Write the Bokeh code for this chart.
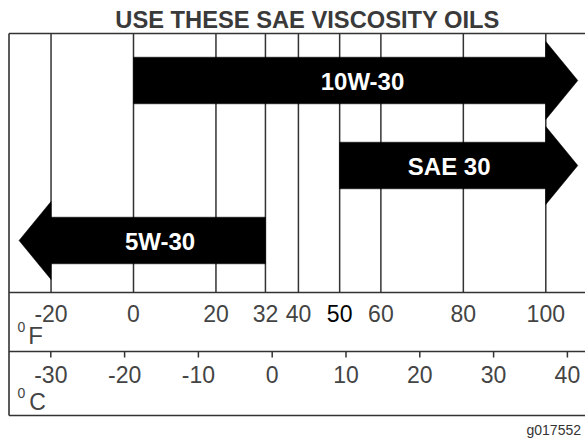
from bokeh.plotting import figure
from bokeh.models import Range1d, Label
from bokeh.core.properties import value
from bokeh.embed import file_html
from bokeh.resources import INLINE

# ---------------- data ----------------
title_text = "USE THESE SAE VISCOSITY OILS"
f_ticks = [-20, 0, 20, 32, 40, 50, 60, 80, 100]
f_labels = ["-20", "0", "20", "32", "40", "50", "60", "80", "100"]
c_ticks = [-30, -20, -10, 0, 10, 20, 30, 40]
c_labels = ["-30", "-20", "-10", "0", "10", "20", "30", "40"]
oil_names = ["10W-30", "SAE 30", "5W-30"]
oil_from_f = [0, 50, 32]
oil_to_f = [100, 100, -20]
code_text = "g017552"

# ---------------- layout ----------------
W, H = 585, 440
FONT = value("Liberation Sans")
LINE = "#333333"
# F scale: x = 133 + 4.123*F ; C scale: x = 271.7 + 7.38*C (as drawn)
f_slope = 4.123
f_zero = 133
c_slope = 7.38
c_zero = 271.7


def fx(px):
    return (px - f_zero) / f_slope


p = figure(width=W, height=H, output_backend="svg", toolbar_location=None,
           x_range=Range1d(fx(0), fx(W)),
           y_range=Range1d(H, 0), min_border=0, outline_line_color=None)
p.extra_x_ranges = {"C": Range1d(-c_zero / c_slope, (W - c_zero) / c_slope)}
p.axis.visible = False
p.grid.visible = False
p.background_fill_color = "white"
p.border_fill_color = "white"

box_top, strip_f, strip_c, box_bottom = 33, 292, 351, 415
x_left = fx(8.5)
x_right = fx(W + 20)

# box + strips
p.multi_line(xs=[[x_left, x_right], [x_left, x_right], [x_left, x_right], [x_left, x_right], [x_left, x_left]],
             ys=[[box_top, box_top], [strip_f, strip_f], [strip_c, strip_c], [box_bottom, box_bottom],
                 [box_top, box_bottom]],
             line_color=LINE, line_width=1.6)

# vertical temperature lines
p.segment(x0=f_ticks, x1=f_ticks, y0=[box_top] * len(f_ticks), y1=[strip_f] * len(f_ticks),
          line_color=LINE, line_width=1.5)

# C ticks
p.segment(x0=c_ticks, x1=c_ticks, y0=[strip_c] * len(c_ticks), y1=[strip_c + 6] * len(c_ticks),
          line_color=LINE, line_width=1.5, x_range_name="C")

# arrows
row_y = [80, 165, 240]
half_bar = 23.3
half_head = 39
head_len = 32 / f_slope
xs, ys = [], []
for x0, x1, yc in zip(oil_from_f, oil_to_f, row_y):
    d = 1 if x1 > x0 else -1
    tip = x1 + d * head_len
    xs.append([x0, x1, x1, tip, x1, x1, x0])
    ys.append([yc - half_bar, yc - half_bar, yc - half_head, yc, yc + half_head, yc + half_bar, yc + half_bar])
p.patches(xs=xs, ys=ys, fill_color="black", line_color="black", line_width=0.5)

label_x = [fx(362), fx(448.7), fx(159.5)]
p.text(x=label_x, y=[y + 1 for y in row_y], text=oil_names, text_font=FONT, text_font_size="24px",
       text_font_style="bold", text_color="white", text_align="center", text_baseline="middle")

# F labels
f_colors = ["#444444"] * len(f_labels)
f_colors[f_labels.index("50")] = "#000000"
p.text(x=f_ticks, y=[313] * len(f_ticks), text=f_labels, text_font=FONT, text_font_size="23px",
       text_color=f_colors, text_align="center", text_baseline="middle")
# C labels
p.text(x=c_ticks, y=[374] * len(c_ticks), text=c_labels, text_font=FONT, text_font_size="23px",
       text_color="#444444", text_align="center", text_baseline="middle", x_range_name="C")

# unit labels
for txt, px, py, size in [("0", 21, 326, "14px"), ("F", 35, 335, "24px"),
                          ("0", 21, 392, "14px"), ("C", 37, 401, "23px")]:
    p.add_layout(Label(x=fx(px), y=py, text=txt, text_font="Liberation Sans",
                       text_font_size=size, text_color="#444444", text_align="center",
                       text_baseline="middle"))

# title
p.add_layout(Label(x=fx(307), y=19, text=title_text, text_font="Liberation Sans",
                   text_font_size="23.7px", text_font_style="bold", text_color="#3a3a3a",
                   text_align="center", text_baseline="middle"))
# drawing code
p.add_layout(Label(x=fx(526), y=437, text=code_text, text_font="Liberation Sans",
                   text_font_size="14px", text_color="#333333", text_align="left",
                   text_baseline="bottom"))

open("out.html", "w").write(file_html(p, INLINE))
